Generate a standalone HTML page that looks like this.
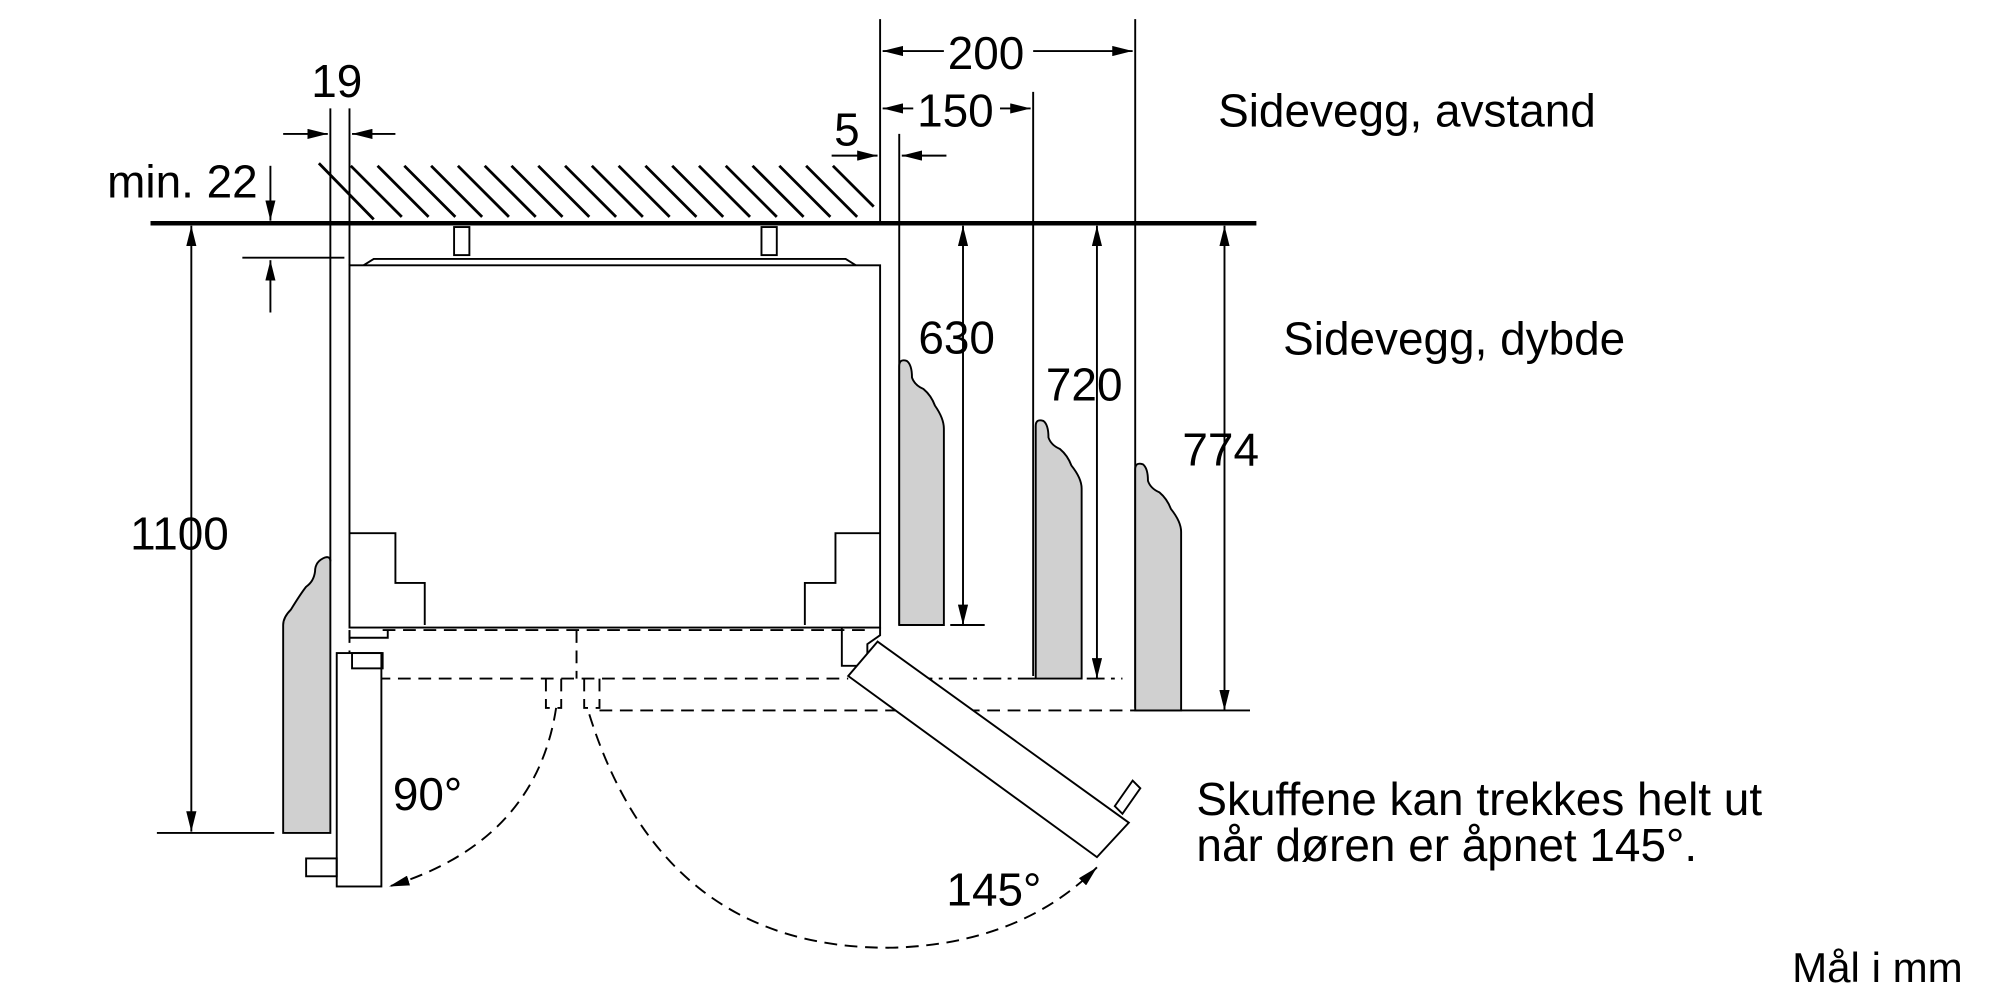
<!DOCTYPE html>
<html><head><meta charset="utf-8"><style>
html,body{margin:0;padding:0;background:#fff;}
svg{display:block;}
text{font-family:"Liberation Sans",sans-serif;font-size:36px;fill:#000;}
</style></head><body>
<svg width="2000" height="1000" viewBox="0 0 1568 784" xmlns="http://www.w3.org/2000/svg">
<defs>
<marker id="a" viewBox="0 0 16 8" refX="16" refY="4" markerWidth="16" markerHeight="8" markerUnits="userSpaceOnUse" orient="auto-start-reverse"><path d="M0,0 L16,4 L0,8 Z" fill="#000"/></marker>
</defs>
<g stroke="#000" fill="none" stroke-width="1.5">
<g stroke-width="2.2">
<line x1="250" y1="128" x2="293" y2="172"/>
<line x1="275" y1="130" x2="315" y2="170"/><line x1="296" y1="130" x2="336" y2="170"/><line x1="317" y1="130" x2="357" y2="170"/><line x1="338" y1="130" x2="378" y2="170"/><line x1="359" y1="130" x2="399" y2="170"/><line x1="380" y1="130" x2="420" y2="170"/><line x1="401" y1="130" x2="441" y2="170"/><line x1="422" y1="130" x2="462" y2="170"/><line x1="443" y1="130" x2="483" y2="170"/><line x1="464" y1="130" x2="504" y2="170"/><line x1="485" y1="130" x2="525" y2="170"/><line x1="506" y1="130" x2="546" y2="170"/><line x1="527" y1="130" x2="567" y2="170"/><line x1="548" y1="130" x2="588" y2="170"/><line x1="569" y1="130" x2="609" y2="170"/><line x1="590" y1="130" x2="630" y2="170"/><line x1="611" y1="130" x2="651" y2="170"/><line x1="632" y1="130" x2="672" y2="170"/><line x1="653" y1="130" x2="685" y2="162"/>
</g>
<line x1="118" y1="175" x2="985" y2="175" stroke-width="3.5"/>
<rect x="356" y="178" width="12" height="22"/><rect x="597" y="178" width="12" height="22"/>
<rect x="274" y="208" width="416" height="284"/>
<polyline points="285,208 293,203 663,203 671,208"/>
<polyline points="274,418 310,418 310,457 333,457 333,490"/>
<polyline points="690,418 655,418 655,457 631,457 631,490"/>
<line x1="259" y1="85" x2="259" y2="440"/><line x1="274" y1="85" x2="274" y2="208"/>
<line x1="690" y1="15" x2="690" y2="175"/><line x1="890" y1="15" x2="890" y2="555"/>
<line x1="810" y1="72" x2="810" y2="530"/><line x1="705" y1="105" x2="705" y2="490"/>
<line x1="222" y1="105" x2="257" y2="105" marker-end="url(#a)"/>
<line x1="310" y1="105" x2="276" y2="105" marker-end="url(#a)"/>
<line x1="212" y1="130" x2="212" y2="173" marker-end="url(#a)"/>
<line x1="212" y1="245" x2="212" y2="204" marker-end="url(#a)"/>
<line x1="190" y1="202" x2="270" y2="202"/>
<line x1="150" y1="177" x2="150" y2="652" marker-start="url(#a)" marker-end="url(#a)"/>
<line x1="123" y1="653" x2="215" y2="653"/>
<line x1="692" y1="40" x2="740" y2="40" marker-start="url(#a)"/><line x1="810" y1="40" x2="888" y2="40" marker-end="url(#a)"/>
<line x1="692" y1="85" x2="716" y2="85" marker-start="url(#a)"/><line x1="784" y1="85" x2="808" y2="85" marker-end="url(#a)"/>
<line x1="652" y1="122" x2="688" y2="122" marker-end="url(#a)"/>
<line x1="742" y1="122" x2="707" y2="122" marker-end="url(#a)"/>
<line x1="755" y1="177" x2="755" y2="490" marker-start="url(#a)" marker-end="url(#a)"/>
<line x1="745" y1="490" x2="772" y2="490"/>
<line x1="860" y1="177" x2="860" y2="532" marker-start="url(#a)" marker-end="url(#a)"/>
<line x1="960" y1="177" x2="960" y2="557" marker-start="url(#a)" marker-end="url(#a)"/>
<line x1="890" y1="557" x2="980" y2="557"/>
<g stroke-dasharray="10,6">
<line x1="300" y1="494" x2="680" y2="494"/>
<line x1="280" y1="532" x2="665" y2="532"/>
<line x1="470" y1="557" x2="890" y2="557"/>
<polyline points="274,494 274,532"/>
<polyline points="452,494 452,532"/>
<polyline points="428,532 428,555 440,555 440,532"/>
<polyline points="458,532 458,555 470,555 470,532"/>
<path d="M436,555 Q420,660 305,695" marker-end="url(#a)"/>
<path d="M462,560 Q520,745 700,743 Q800,740 860,680" marker-end="url(#a)"/>
</g>
<line x1="690" y1="532" x2="880" y2="532" stroke-dasharray="14,5,3,5"/>
<rect x="264" y="512" width="35" height="183" fill="#fff"/>
<rect x="276" y="512" width="24" height="12"/>
<rect x="240" y="673" width="24" height="14"/>
<polyline points="274,494 274,500 304,500 304,494"/>
<polyline points="660,492 660,522 680,522 680,505 690,498 690,492"/>
<polygon points="688,503 665,530 860,672 885,645" fill="#fff"/>
<polygon points="874,632 888,612 894,618 880,638"/>
<g fill="#d0d0d0" stroke-width="1.5">
<path d="M222,653 V490 Q222,484 228,478 Q236,465 240,460 Q246,456 247,448 Q247,440 255,437 Q259,436 259,440 V653 Z"/>
<path d="M705,490 V287 Q705,281 711,283 Q715,286 715,296 Q717,302 724,305 Q730,310 733,318 Q740,328 740,336 V490 Z"/>
<path d="M812,532 V334 Q812,328 818,330 Q822,333 822,343 Q824,349 831,352 Q837,357 840,365 Q848,375 848,383 V532 Z"/>
<path d="M890,557 V368 Q890,362 896,364 Q900,367 900,377 Q902,383 909,386 Q915,391 918,399 Q926,409 926,417 V557 Z"/>
</g>
</g>
<text x="244" y="76">19</text>
<text x="84" y="155">min. 22</text>
<text x="102" y="431">1100</text>
<text x="743" y="54">200</text>
<text x="719" y="99">150</text>
<text x="654" y="114">5</text>
<text x="720" y="277">630</text>
<text x="820" y="314">720</text>
<text x="927" y="365">774</text>
<text x="955" y="99">Sidevegg, avstand</text>
<text x="1006" y="278">Sidevegg, dybde</text>
<text x="938" y="639">Skuffene kan trekkes helt ut</text>
<text x="938" y="675">når døren er åpnet 145°.</text>
<text x="308" y="635">90°</text>
<text x="742" y="710">145°</text>
<text x="1405" y="770" style="font-size:33px">Mål i mm</text>
</svg>
</body></html>
